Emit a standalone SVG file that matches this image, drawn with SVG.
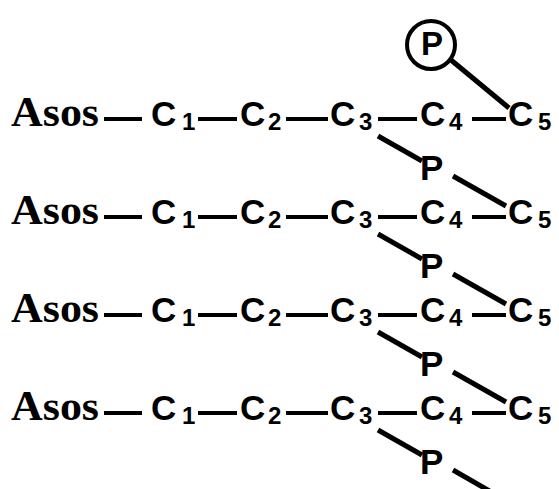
<svg xmlns="http://www.w3.org/2000/svg" width="559" height="489" viewBox="0 0 559 489">
<style>
.asos{font-family:"Liberation Serif","Times New Roman",serif;font-weight:bold;font-size:42px;fill:#000}
.c{font-family:"Liberation Sans",Arial,sans-serif;font-weight:bold;font-size:35px;fill:#000}
.s{font-family:"Liberation Sans",Arial,sans-serif;font-weight:bold;font-size:24px;fill:#000}
.b{stroke:#000;stroke-width:4;fill:none}
.d{stroke:#000;stroke-width:5;fill:none;stroke-linecap:butt}
</style>
<rect width="559" height="489" fill="#fff"/>
<defs>
<g id="row">
<text class="asos" x="11" y="0" textLength="88" lengthAdjust="spacingAndGlyphs">Asos</text>
<text class="c" x="151" y="0">C</text><text class="s" x="182" y="4">1</text>
<text class="c" x="240" y="0">C</text><text class="s" x="268" y="4">2</text>
<text class="c" x="330" y="0">C</text><text class="s" x="359" y="4">3</text>
<text class="c" x="420" y="0">C</text><text class="s" x="449" y="4">4</text>
<text class="c" x="508" y="0">C</text><text class="s" x="538" y="4">5</text>
<path class="b" d="M104 -7H142M198 -7H237M286 -7H328M378 -7H417M472 -7H506"/>
<path class="d" d="M378 10L422 35"/>
<text class="c" x="420" y="54">P</text>
</g>
</defs>
<g id="chain1" transform="translate(0,126)"><use href="#row"/></g>
<g id="chain2" transform="translate(0,224)"><use href="#row"/></g>
<g id="chain3" transform="translate(0,322)"><use href="#row"/></g>
<g id="chain4" transform="translate(0,420)"><use href="#row"/></g>
<g id="phosphate">
<circle cx="431" cy="45" r="24" fill="none" stroke="#000" stroke-width="4"/>
<text class="c" x="432" y="55" text-anchor="middle" style="font-size:33px">P</text>
</g>
<g id="connectors">
<path class="d" d="M451 60L509 108"/>
<path class="d" d="M453 176L506 206"/>
<path class="d" d="M453 274L506 304"/>
<path class="d" d="M453 372L506 402"/>
<path class="d" d="M453 470L493 493"/>
</g>
</svg>
